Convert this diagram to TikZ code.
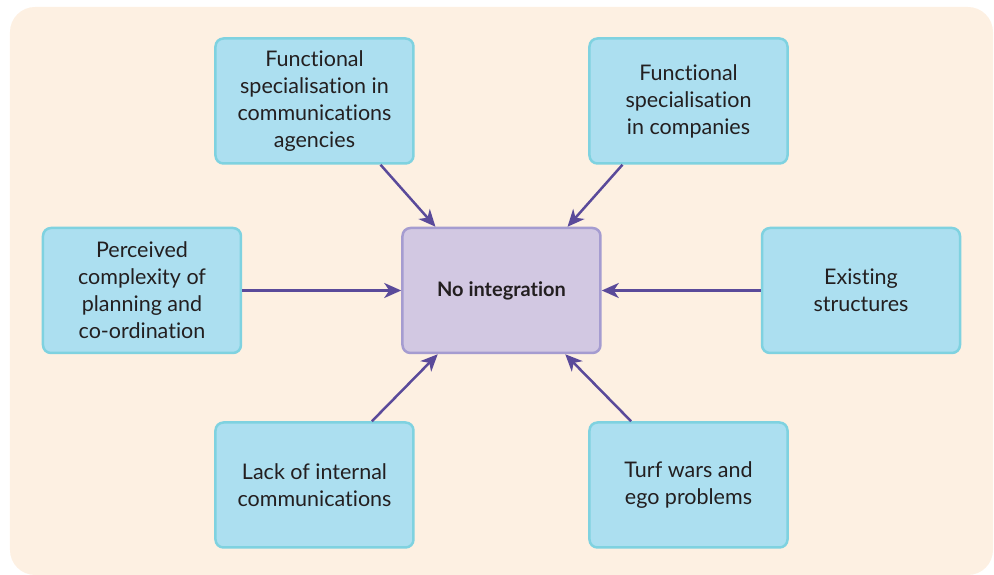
\documentclass[tikz,border=0pt]{standalone}
\usepackage{fontspec}
\setmainfont[Ligatures=NoCommon]{Lato}
\usepackage{xcolor}
\usetikzlibrary{calc}
\usetikzlibrary{positioning}
\usetikzlibrary{arrows.meta}

\definecolor{bgpeach}{HTML}{FDF0E2}
\definecolor{cyanfill}{HTML}{ACDFF0}
\definecolor{cyanline}{HTML}{7FD2E0}
\definecolor{lilacfill}{HTML}{D2C8E2}
\definecolor{lilacline}{HTML}{A59CD0}
\definecolor{arrowpurple}{HTML}{5A4A9A}
\definecolor{txtgray}{HTML}{231F20}

\begin{document}
\begin{tikzpicture}[x=1pt, y=1pt,
    cause/.style={draw=cyanline, fill=cyanfill, line width=2.5pt,
        rounded corners=8pt, minimum width=198pt, minimum height=125pt,
        align=center, text=txtgray, font=\fontsize{21.5}{27}\selectfont},
    effect/.style={cause, draw=lilacline, fill=lilacfill,
        font=\fontsize{20}{27}\selectfont\bfseries}]

        \def\v{62pt}
        \def\w{67pt}
        \def\h{159pt}
        \def\s{187pt}

        % page and background panel
        \useasboundingbox (-501.5,-284.5) rectangle (492.5,290.5);
        \fill[bgpeach, rounded corners=25pt] (-491.5,-284.5) rectangle (491.5,283.5);

        \begin{scope}
            \node[effect] (NI) at (0, 0) {No integration};
            \node[cause] (FSA) [above=\v of NI, xshift=-\s]
            {Functional\\specialisation in\\communications\\agencies};
            \node[cause] (FSC) [above=\v of NI, xshift=\s]
            {Functional\\specialisation\\in companies};
            \node[cause] (PC) [left=\h of NI]
            {Perceived\\complexity of\\planning and\\co-ordination};
            \node[cause] (ES) [right=\h of NI]
            {Existing\\structures};
            \node[cause] (LIC) [below=\w of NI, xshift=-\s]
            {Lack of internal\\communications};
            \node[cause] (TW) [below=\w of NI, xshift=\s]
            {Turf wars and\\ego problems};
        \end{scope}

        \begin{scope}[line width=2.5pt, draw=arrowpurple,
            -{Stealth[length=17pt, width=15pt, inset=5pt]}]
            \draw (FSA.-44) -- (NI.136);
            \draw (FSC.-136) -- (NI.44);
            \draw (PC) -- (NI);
            \draw (ES) -- (NI);
            \draw (LIC.48) -- (NI.-135);
            \draw (TW.132) -- (NI.-45);
        \end{scope}

\end{tikzpicture}
\end{document}
